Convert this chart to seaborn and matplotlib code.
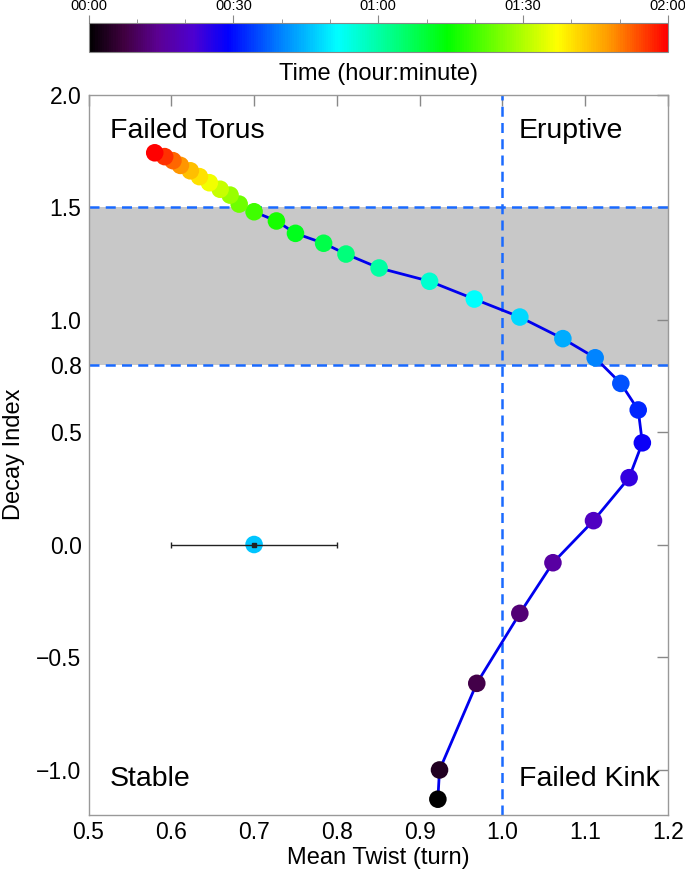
import numpy as np
import pandas as pd
import seaborn as sns
import matplotlib.pyplot as plt
from matplotlib.colors import LinearSegmentedColormap, Normalize
from matplotlib.cm import ScalarMappable
from matplotlib.ticker import MultipleLocator

# time in minutes since 00:00, one sample every 4 minutes
time_min = [0, 4, 8, 12, 16, 20, 24, 28, 32, 36, 40, 44, 48, 52, 56, 60,
            64, 68, 72, 76, 80, 84, 88, 92, 96, 100, 104, 108, 112, 116, 120]
mean_twist = [0.922, 0.924, 0.969, 1.021, 1.061, 1.110, 1.153, 1.169, 1.164, 1.143,
              1.112, 1.073, 1.021, 0.966, 0.912, 0.851, 0.811, 0.784, 0.750, 0.727,
              0.700, 0.682, 0.671, 0.659, 0.646, 0.634, 0.623, 0.611, 0.602, 0.592, 0.580]
decay_index = [-1.132, -1.002, -0.617, -0.306, -0.081, 0.106, 0.297, 0.452, 0.598, 0.716,
               0.830, 0.915, 1.011, 1.091, 1.170, 1.229, 1.291, 1.339, 1.383, 1.438,
               1.479, 1.513, 1.553, 1.579, 1.608, 1.635, 1.661, 1.685, 1.706, 1.724, 1.741]

# representative error bar
err_x, err_y, err_xerr, err_time = 0.70, 0.0, 0.10, 46

x_ticks = [0.5, 0.6, 0.7, 0.8, 0.9, 1.0, 1.1, 1.2]
y_ticks = [-1.0, -0.5, 0.0, 0.5, 0.8, 1.0, 1.5, 2.0]
cbar_ticks = [0, 30, 60, 90, 120]
cbar_labels = ["00:00", "00:30", "01:00", "01:30", "02:00"]

df = pd.DataFrame({"twist": mean_twist, "decay": decay_index, "time": time_min})

# IDL-like rainbow: black -> purple -> blue -> cyan -> green -> yellow -> red
cmap = LinearSegmentedColormap.from_list("idl_rainbow", [
    (0.00, (0.0, 0.0, 0.0)),
    (0.06, (0.25, 0.0, 0.25)),
    (0.12, (0.36, 0.0, 0.58)),
    (0.18, (0.30, 0.0, 0.82)),
    (0.24, (0.0, 0.0, 1.0)),
    (0.33, (0.0, 0.5, 1.0)),
    (0.43, (0.0, 1.0, 1.0)),
    (0.53, (0.0, 1.0, 0.5)),
    (0.62, (0.0, 1.0, 0.0)),
    (0.81, (1.0, 1.0, 0.0)),
    (0.90, (1.0, 0.6, 0.0)),
    (1.00, (1.0, 0.0, 0.0)),
])
norm = Normalize(0, 120)

sns.set_style("white")
plt.rcParams['font.family'] = ['Liberation Sans', 'DejaVu Sans']
plt.rcParams['axes.unicode_minus'] = True
plt.rcParams['text.color'] = 'black'
plt.rcParams['axes.labelcolor'] = 'black'
plt.rcParams['xtick.color'] = 'black'
plt.rcParams['ytick.color'] = 'black'

fig = plt.figure(figsize=(6.85, 8.76), dpi=100)
ax = fig.add_axes([0.1292, 0.0702, 0.8460, 0.8219])
cax = fig.add_axes([0.1292, 0.941, 0.8460, 0.0325])

# shaded torus-instability band and thresholds
ax.axhspan(0.8, 1.5, color="#c8c8c8", zorder=0, lw=0)
dash = dict(color="#1a6aff", lw=1.8, ls=(0, (4, 2.5)), zorder=1)
ax.axhline(1.5, **dash)
ax.axhline(0.8, **dash)
ax.axvline(1.0, **dash)

sns.lineplot(data=df, x="twist", y="decay", sort=False, estimator=None,
             color="#0000ee", lw=2, ax=ax, zorder=2)
sns.scatterplot(data=df, x="twist", y="decay", hue="time", palette=cmap,
                hue_norm=(0, 120), s=160, edgecolor="none", legend=False,
                ax=ax, zorder=3)

ax.scatter([err_x], [err_y], s=160, color=cmap(norm(err_time)), edgecolor="none", zorder=3)
ax.errorbar([err_x], [err_y], xerr=[err_xerr], fmt="s", ms=3, color="#222222",
            ecolor="#222222", elinewidth=1, capsize=2, zorder=4)

ax.set_xlim(0.5, 1.2)
ax.set_ylim(-1.2, 2.0)
ax.set_xticks(x_ticks)
ax.set_xticklabels([f"{v:.1f}" for v in x_ticks])
ax.set_yticks(y_ticks)
ax.set_yticklabels([f"{v:.1f}".replace("-", "\u2212") for v in y_ticks])
ax.tick_params(direction="in", length=8, width=1, color="#888888",
               top=True, right=True, labelsize=16.5, pad=5)
for sp in ax.spines.values():
    sp.set_color("#999999")
    sp.set_linewidth(1)

ax.set_xlabel("Mean Twist (turn)", fontsize=17, labelpad=2)
ax.set_ylabel("Decay Index", fontsize=17, labelpad=8)

ax.text(0.526, 1.838, "Failed Torus", fontsize=20.5, va="center")
ax.text(1.020, 1.838, "Eruptive", fontsize=20.5, va="center")
ax.text(0.526, -1.042, "Stable", fontsize=20.5, va="center")
ax.text(1.020, -1.042, "Failed Kink", fontsize=20.5, va="center")

# colour bar for time
sm = ScalarMappable(norm=norm, cmap=cmap)
cb = fig.colorbar(sm, cax=cax, orientation="horizontal")
cb.outline.set_edgecolor("#888888")
cax.xaxis.set_ticks_position("top")
cax.set_xticks(cbar_ticks)
cax.set_xticklabels(cbar_labels)
cax.xaxis.set_minor_locator(MultipleLocator(10))
cax.tick_params(which="major", direction="out", length=6, color="#888888",
                labelsize=10.5, pad=1)
cax.tick_params(which="minor", direction="out", length=3, color="#888888", top=True, bottom=False)
cb.set_label("Time (hour:minute)", fontsize=17, labelpad=8)
cax.xaxis.set_label_position("bottom")

fig.savefig("out.png", dpi=100)
